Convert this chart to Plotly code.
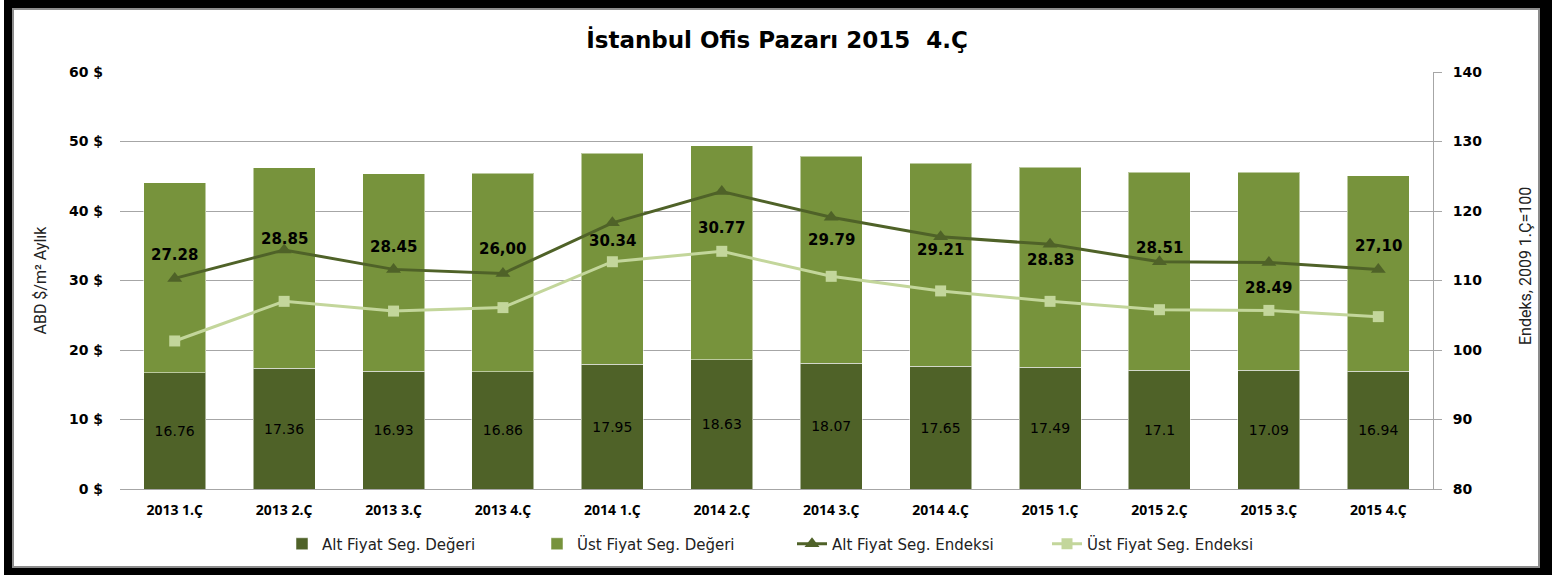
import plotly.graph_objects as go

# ---------------- data ----------------
categories = ["2013 1.Ç", "2013 2.Ç", "2013 3.Ç", "2013 4.Ç", "2014 1.Ç", "2014 2.Ç",
              "2014 3.Ç", "2014 4.Ç", "2015 1.Ç", "2015 2.Ç", "2015 3.Ç", "2015 4.Ç"]
alt_deger = [16.76, 17.36, 16.93, 16.86, 17.95, 18.63, 18.07, 17.65, 17.49, 17.1, 17.09, 16.94]
ust_deger = [27.28, 28.85, 28.45, 28.55, 30.34, 30.77, 29.79, 29.21, 28.83, 28.51, 28.49, 28.10]
ust_labels = ["27.28", "28.85", "28.45", "26,00", "30.34", "30.77",
              "29.79", "29.21", "28.83", "28.51", "28.49", "27,10"]
alt_endeks = [110.3, 114.4, 111.6, 111.0, 118.3, 122.8, 119.1, 116.3, 115.2, 112.7, 112.6, 111.6]
ust_endeks = [101.3, 107.0, 105.6, 106.1, 112.7, 114.2, 110.6, 108.5, 107.0, 105.8, 105.7, 104.8]

# ---------------- style ----------------
W, H = 1554, 577
ML, MR, MT, MB = 120, 121, 72, 88
PW, PH = W - ML - MR, H - MT - MB
label_shift = [23, 11, 22, 25, -18, -36, -23, -13, -16, 14, -26, 23]  # pixel offsets of upper labels

C_ALT = "#4F6228"
C_UST = "#77933C"
C_ALT_LINE = "#4F6228"
C_UST_LINE = "#C3D69B"
GRID = "#A6A6A6"
NUM_FONT = "DejaVu Sans"
CAT_FONT = "Open Sans"
NARROW = "Liberation Sans Narrow, Roboto, sans-serif"


def px_x(px):
    return (px - ML) / PW


def px_y(py):
    return (H - MB - py) / PH


fig = go.Figure()

fig.add_trace(go.Bar(
    x=categories, y=alt_deger, name="Alt Fiyat Seg. Değeri",
    marker=dict(color=C_ALT, line=dict(color="rgba(255,255,255,0.5)", width=1)),
    text=[str(v) for v in alt_deger], textposition="inside", insidetextanchor="middle",
    textangle=0, constraintext="none",
    textfont=dict(family=NUM_FONT, size=14, color="black"),
))
fig.add_trace(go.Bar(
    x=categories, y=ust_deger, name="Üst Fiyat Seg. Değeri",
    marker=dict(color=C_UST, line=dict(color="rgba(255,255,255,0.5)", width=1)),
))
fig.add_trace(go.Scatter(
    x=categories, y=alt_endeks, name="Alt Fiyat Seg. Endeksi", yaxis="y2",
    mode="lines+markers",
    line=dict(color=C_ALT_LINE, width=3),
    marker=dict(symbol="triangle-up", size=13, color=C_ALT_LINE),
))
fig.add_trace(go.Scatter(
    x=categories, y=ust_endeks, name="Üst Fiyat Seg. Endeksi", yaxis="y2",
    mode="lines+markers",
    line=dict(color=C_UST_LINE, width=3),
    marker=dict(symbol="square", size=11, color=C_UST_LINE),
))

annotations = []
for cat, yv, lab, sh in zip(categories, alt_endeks, ust_labels, label_shift):
    annotations.append(dict(
        x=cat, y=yv, xref="x", yref="y2", text=lab, showarrow=False,
        yanchor="middle", xanchor="center", yshift=sh,
        font=dict(family=NUM_FONT, size=15, color="black", weight="bold"),
    ))

annotations.append(dict(
    x=px_x(40), y=0.5, xref="paper", yref="paper", text="ABD $/m² Aylık",
    textangle=-90, showarrow=False, xanchor="center", yanchor="middle",
    font=dict(family=NARROW, size=16, color="#222222"),
))
annotations.append(dict(
    x=px_x(1525), y=px_y(266), xref="paper", yref="paper", text="Endeks, 2009 1.Ç=100",
    textangle=-90, showarrow=False, xanchor="center", yanchor="middle",
    font=dict(family=NARROW, size=16, color="#222222"),
))

shapes = []
# black frame around the chart
for x0, y0, x1, y1 in [(4, 0, 12, 575), (4, 0, 1552, 8), (1540, 0, 1552, 575), (4, 568, 1552, 575)]:
    shapes.append(dict(type="rect", xref="paper", yref="paper",
                       x0=px_x(x0), x1=px_x(x1), y0=px_y(y1), y1=px_y(y0),
                       fillcolor="black", line=dict(width=0), layer="above"))
shapes.append(dict(type="rect", xref="paper", yref="paper",
                   x0=px_x(13), x1=px_x(1539), y0=px_y(567), y1=px_y(9),
                   fillcolor="rgba(0,0,0,0)", line=dict(color="#8C8C8C", width=2), layer="above"))

fig.update_layout(
    width=W, height=H,
    margin=dict(l=ML, r=MR, t=MT, b=MB, autoexpand=False),
    paper_bgcolor="white", plot_bgcolor="white",
    barmode="stack", bargap=0.433,
    title=dict(text="İstanbul Ofis Pazarı 2015  4.Ç", x=0.5, xanchor="center",
               y=1 - 40 / H, yanchor="middle",
               font=dict(family=NUM_FONT, size=23, color="black", weight="bold")),
    xaxis=dict(
        range=[-0.5, len(categories) - 0.5],
        showgrid=False, showline=True, linecolor=GRID, linewidth=1,
        ticks="", ticklabelstandoff=8,
        tickfont=dict(family=CAT_FONT, size=14, color="black", weight="bold"),
    ),
    yaxis=dict(
        range=[0, 60], dtick=10, ticksuffix=" $", showgrid=True, gridcolor=GRID, gridwidth=1,
        zeroline=False, showline=False, ticks="", ticklabelstandoff=16,
        tickfont=dict(family=NUM_FONT, size=14, color="black", weight="bold"),
    ),
    yaxis2=dict(
        range=[80, 140], dtick=10, overlaying="y", side="right", showgrid=False,
        zeroline=False, showline=True, linecolor=GRID, linewidth=1,
        ticks="outside", ticklen=8, tickcolor=GRID, ticklabelstandoff=8,
        tickfont=dict(family=NUM_FONT, size=14, color="black", weight="bold"),
    ),
    legend=dict(orientation="h", x=px_x(792), xanchor="center", y=px_y(544), yanchor="middle",
                traceorder="normal",
                font=dict(family=NUM_FONT, size=15, color="#222222"),
                itemwidth=30, entrywidth=210, entrywidthmode="pixels"),
    annotations=annotations,
    shapes=shapes,
    showlegend=True,
)

fig.write_html("out.html", config={"displayModeBar": False},
               post_script="document.body.style.margin='0';")
